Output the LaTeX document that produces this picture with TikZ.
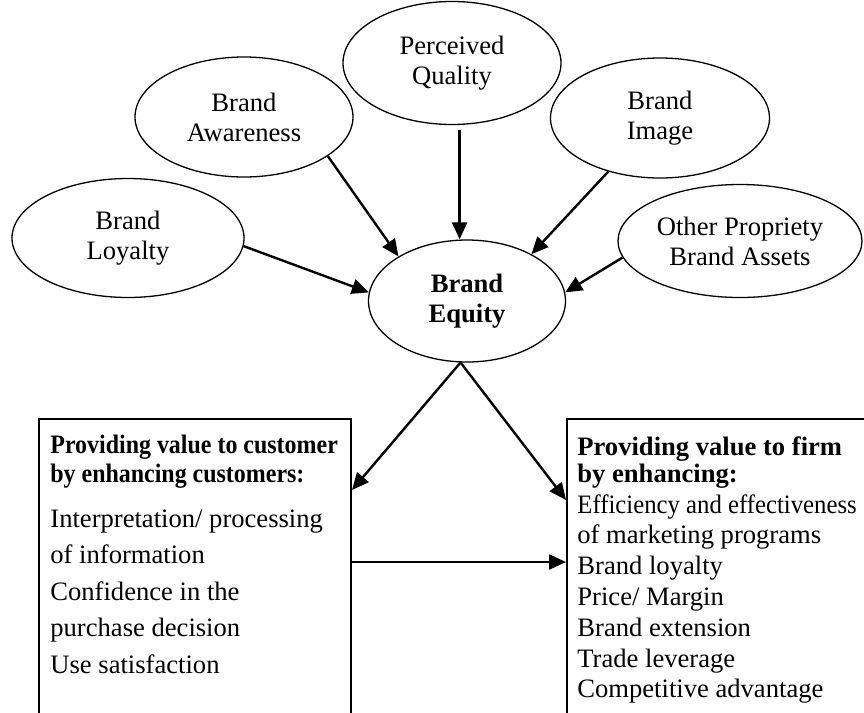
\documentclass[tikz,border=0pt]{standalone}
\usepackage{fontspec}
\setmainfont{Liberation Serif}
\newfontfamily\condfont[FakeStretch=0.9]{Liberation Serif}
\newfontfamily\narrowfont[FakeStretch=0.93]{Liberation Serif}
\usetikzlibrary{shapes.geometric, arrows.meta, calc}

\begin{document}
\begin{tikzpicture}[x=0.5pt, y=-0.5pt,
  factor/.style={ellipse, draw, line width=0.65pt, inner sep=0pt, align=center, font=\txtsize},
  box/.style={rectangle, draw, line width=1pt, inner sep=0pt},
  line/.style={anchor=base west, inner sep=0pt, font=\txtsize},
  arr/.style={-{Triangle[length=8.5pt, width=7.5pt]}, line width=1.2pt}]

% GLOBAL SETTINGS
\newcommand{\txtsize}{\fontsize{13.3pt}{15pt}\selectfont}
\useasboundingbox (0,0) rectangle (864,713);
\clip (0,0) rectangle (864,713);

% FACTORS
\node[factor, minimum width=109pt, minimum height=61.5pt] (quality) at (452,63) {Perceived\\Quality};
\node[factor, minimum width=109pt, minimum height=60pt] (awareness) at (244,117) {Brand\\Awareness};
\node[factor, minimum width=109.5pt, minimum height=60pt] (image) at (660,118) {Brand\\Image};
\node[factor, minimum width=116pt, minimum height=59.5pt] (loyalty) at (128,238) {Brand\\Loyalty};
\node[factor, minimum width=122pt, minimum height=56.5pt] (assets) at (740,241) {Other Propriety\\Brand Assets};
% Brand Equity
\node[factor, minimum width=98.5pt, minimum height=61pt, font=\txtsize\bfseries] (equity) at (467,301) {Brand\\Equity};

% VALUE BOXES (cut off at the bottom)
\node[box, anchor=north west, minimum width=156pt, minimum height=200pt] (custbox) at (38,418) {};
\node[box, anchor=north west, minimum width=200pt, minimum height=200pt] (firmbox) at (566,418) {};

% customer text
\path foreach \t [count=\i] in {Providing value to customer, by enhancing customers:} {
(50,{424+29*\i}) node[line, font=\txtsize\condfont\bfseries] (ch\i) {\t}
};
\path foreach \t [count=\i] in {Interpretation/ processing, of information, Confidence in the, purchase decision, Use satisfaction} {
(50,{490.5+36.5*\i}) node[line] (cb\i) {\t}
};
% firm text
\path foreach \t [count=\i] in {Providing value to firm, by enhancing:} {
(577,{428+27*\i}) node[line, font=\txtsize\bfseries] (fh\i) {\t}
};
\path foreach \t [count=\i] in {{\narrowfont Efficiency and effectiveness}, of marketing programs, Brand loyalty, Price/ Margin, Brand extension, Trade leverage, Competitive advantage} {
(577,{482.2+30.8*\i}) node[line] (fb\i) {\t}
};

% EDGES
\draw[arr] (loyalty.-4) -- (equity.175);
\draw[arr] (awareness.-25) -- (equity.147);
\draw[arr, shorten <=2.5pt] (quality.-83) -- (quality.-83 |- equity.north);
\draw[arr] (image.-134) -- (equity.36);
\draw[arr] (assets.188) -- (equity.5);
%
\draw[arr] (equity.-96) -- ($(custbox.north east)+(0,72)$);
\draw[arr] (equity.-96) -- ($(firmbox.north west)+(0,82)$);
\draw[arr] ($(custbox.north east)+(0,144)$) -- ($(firmbox.north west)+(0,144)$);

\end{tikzpicture}
\end{document}
